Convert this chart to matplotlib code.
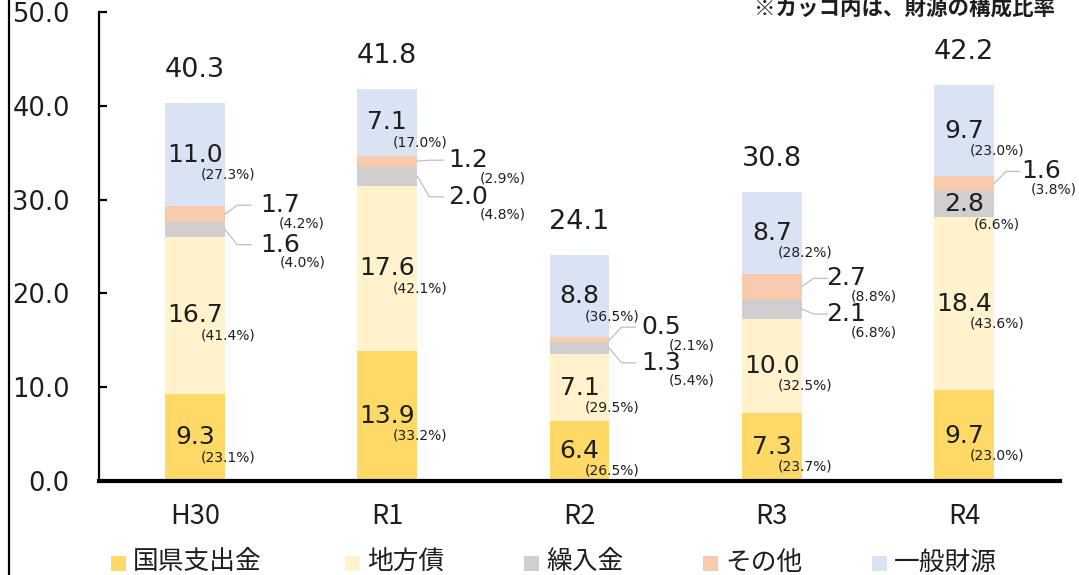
import numpy as np
import matplotlib
matplotlib.use("Agg")
import matplotlib.pyplot as plt
from matplotlib.lines import Line2D
from matplotlib.patches import Rectangle

# ---------------- data ----------------
categories = ["H30", "R1", "R2", "R3", "R4"]
series_names = ["国県支出金", "地方債", "繰入金", "その他", "一般財源"]
kokken = [9.3, 13.9, 6.4, 7.3, 9.7]
chihousai = [16.7, 17.6, 7.1, 10.0, 18.4]
kurikomi = [1.6, 2.0, 1.3, 2.1, 2.8]
sonota = [1.7, 1.2, 0.5, 2.7, 1.6]
ippan = [11.0, 7.1, 8.8, 8.7, 9.7]
totals = [40.3, 41.8, 24.1, 30.8, 42.2]

pct_kokken = [23.1, 33.2, 26.5, 23.7, 23.0]
pct_chihousai = [41.4, 42.1, 29.5, 32.5, 43.6]
pct_kurikomi = [4.0, 4.8, 5.4, 6.8, 6.6]
pct_sonota = [4.2, 2.9, 2.1, 8.8, 3.8]
pct_ippan = [27.3, 17.0, 36.5, 28.2, 23.0]

yticks = [0, 10, 20, 30, 40, 50]
note = "※カッコ内は、財源の構成比率"

# ---------------- style / layout ----------------
colors = ["#FFD966", "#FFF2CC", "#D0CECE", "#F8CBAD", "#DAE3F3"]
txt_color = "#1e1e1e"
num_font = ["DejaVu Sans", "Noto Sans CJK JP"]
jp_font = ["Noto Sans CJK JP", "DejaVu Sans"]

# labels outside the bar with a leader line:
# (category, series) -> (label y in data units, label x offset px from bar edge, pct x offset px)
ext_labels = {(0, 3): (29.4, 55, 22), (0, 2): (25.2, 55, 23),
              (1, 3): (34.2, 51, 34), (1, 2): (30.3, 51, 34),
              (2, 3): (16.4, 52, 30), (2, 2): (12.6, 52, 30),
              (3, 3): (21.6, 44, 28), (3, 2): (17.8, 44, 28),
              (4, 3): (33.0, 47, 13)}

W, H = 1079, 575
PT = 72 / 100  # points per pixel
fig = plt.figure(figsize=(W / 100, H / 100), dpi=100)
ax_l, ax_r, ax_t, ax_b = 99, 1060, 12, 481
ax = fig.add_axes([ax_l / W, 1 - ax_b / H, (ax_r - ax_l) / W, (ax_b - ax_t) / H])

series = [kokken, chihousai, kurikomi, sonota, ippan]
pcts = [pct_kokken, pct_chihousai, pct_kurikomi, pct_sonota, pct_ippan]
x = np.arange(len(categories))
bw = 0.312
px_per_x = (ax_r - ax_l) / len(categories)
bottom = np.zeros(len(categories))
handles = []
for si, (vals, col, name) in enumerate(zip(series, colors, series_names)):
    b = ax.bar(x, vals, bw, bottom=bottom, color=col, label=name, zorder=2)
    handles.append(b)
    for ci in range(len(categories)):
        v = vals[ci]
        mid = bottom[ci] + v / 2
        p = pcts[si][ci]
        if (ci, si) in ext_labels:
            ly, ldx, pdx = ext_labels[(ci, si)]
            xr = x[ci] + bw / 2
            ax.plot([xr, xr + 12 / px_per_x, xr + 26 / px_per_x], [mid, ly, ly],
                    color="#BFBFBF", lw=0.9, zorder=3, clip_on=False)
            lx = xr + ldx / px_per_x
            ax.text(lx, ly, f"{v:.1f}", ha="center", va="center",
                    fontsize=18, color=txt_color, family=num_font, zorder=4)
            ax.annotate(f"({p:.1f}%)", xy=(lx, ly), xytext=(pdx * PT, -18 * PT),
                        textcoords="offset points", ha="center", va="center",
                        fontsize=10, color=txt_color, family=num_font,
                        annotation_clip=False)
        else:
            ax.text(x[ci], mid, f"{v:.1f}", ha="center", va="center",
                    fontsize=18, color=txt_color, family=num_font, zorder=4)
            ax.annotate(f"({p:.1f}%)", xy=(x[ci], mid), xytext=(33 * PT, -20 * PT),
                        textcoords="offset points", ha="center", va="center",
                        fontsize=10, color=txt_color, family=num_font, zorder=4)
    bottom += np.array(vals)

for ci, t in enumerate(totals):
    ax.text(x[ci], t + 3.5, f"{t:.1f}", ha="center", va="center",
            fontsize=19.5, color=txt_color, family=num_font)

ax.set_xlim(-0.5, len(categories) - 0.5)
ax.set_ylim(0, 50)
ax.set_yticks(yticks)
ax.set_yticklabels([f"{t:.1f}" for t in yticks], family=num_font,
                   fontsize=18.5, color=txt_color)
ax.set_xticks(x)
ax.set_xticklabels(categories, family=jp_font, fontsize=19.5, color=txt_color)
ax.tick_params(axis="y", direction="in", length=6, width=1.6, pad=21)
ax.tick_params(axis="x", length=0, pad=16)
for s in ["top", "right"]:
    ax.spines[s].set_visible(False)
ax.spines["left"].set_linewidth(1.6)
ax.spines["bottom"].set_linewidth(3)
ax.spines["bottom"].set_zorder(5)

# legend (placed item by item)
leg_sq_x = [111, 345, 524, 703, 872]
leg_y = 563
for sx, col, name in zip(leg_sq_x, colors, series_names):
    fig.add_artist(Rectangle((sx / W, 1 - (leg_y + 8) / H), 15 / W, 15 / H,
                             transform=fig.transFigure, facecolor=col,
                             edgecolor="none"))
    fig.text((sx + 22) / W, 1 - leg_y / H, name, ha="left", va="center",
             fontsize=18.5, family=jp_font, color=txt_color)

fig.text(1055 / W, 1 - 8 / H, note, ha="right", va="center", fontsize=15.5,
         fontweight="bold", family=jp_font, color=txt_color)

fig.add_artist(Line2D([9 / W, 9 / W], [0, 1], color="black", lw=1.6,
                      transform=fig.transFigure))

fig.savefig("out.png", dpi=100)
